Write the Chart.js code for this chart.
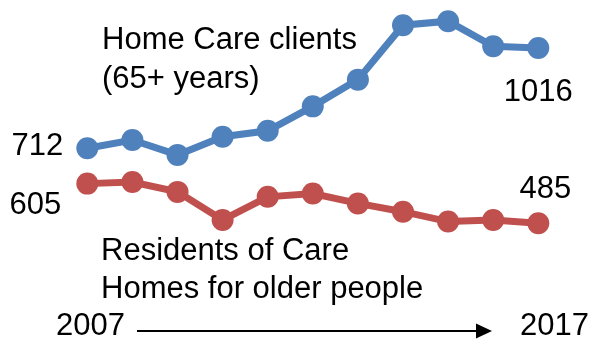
<!DOCTYPE html>
<html>
<head>
<meta charset="utf-8">
<script src="https://cdn.jsdelivr.net/npm/chart.js@4/dist/chart.umd.min.js"></script>
<style>
html,body{margin:0;padding:0;background:#fff;}
#wrap{width:592px;height:340px;position:relative;}
</style>
</head>
<body>
<div id="wrap"><canvas id="c" width="592" height="340"></canvas></div>
<script>
const years = ['2007','2008','2009','2010','2011','2012','2013','2014','2015','2016','2017'];
const homeCareClients = [712, 737, 692, 747, 765, 839, 920, 1085, 1097, 1021, 1016];
const careHomeResidents = [605, 610, 580, 495, 565, 575, 545, 520, 490, 495, 485];
const seriesNames = ['Home Care clients (65+ years)', 'Residents of Care Homes for older people'];

const FONT = '31px "Liberation Sans", Arial, sans-serif';

const textPlugin = {
  id: 'texts',
  afterDatasetsDraw(chart) {
    const ctx = chart.ctx;
    ctx.save();
    ctx.fillStyle = '#000';
    ctx.font = FONT;
    ctx.textBaseline = 'alphabetic';
    const b = chart.getDatasetMeta(0).data;
    const r = chart.getDatasetMeta(1).data;
    // value labels
    ctx.textAlign = 'right';
    ctx.fillText(String(homeCareClients[0]), b[0].x - 24, b[0].y + 7);
    ctx.fillText(String(careHomeResidents[0]), r[0].x - 26, r[0].y + 30);
    ctx.textAlign = 'center';
    const nb = b.length - 1, nr = r.length - 1;
    ctx.fillText(String(homeCareClients[nb]), b[nb].x, b[nb].y + 53);
    ctx.fillText(String(careHomeResidents[nr]), r[nr].x + 7, r[nr].y - 25);
    // series labels
    ctx.textAlign = 'left';
    ctx.fillText('Home Care clients', 102, 49);
    ctx.fillText('(65+ years)', 102, 88);
    ctx.fillText('Residents of Care', 101, 260);
    ctx.fillText('Homes for older people', 101, 298);
    // years + arrow
    ctx.fillText(years[0], 56, 335);
    ctx.fillText(years[years.length - 1], 520, 335);
    ctx.strokeStyle = '#000';
    ctx.lineWidth = 2;
    ctx.beginPath();
    ctx.moveTo(137, 331);
    ctx.lineTo(478, 331);
    ctx.stroke();
    ctx.beginPath();
    ctx.moveTo(476, 323.5);
    ctx.lineTo(492, 331);
    ctx.lineTo(476, 338.5);
    ctx.closePath();
    ctx.fill();
    ctx.restore();
  }
};

new Chart(document.getElementById('c'), {
  type: 'line',
  data: {
    labels: years,
    datasets: [
      {
        label: seriesNames[0],
        data: homeCareClients,
        borderColor: '#4F81BD',
        backgroundColor: '#4F81BD',
        borderWidth: 7,
        pointRadius: 11,
        pointHoverRadius: 11,
        pointBorderWidth: 0,
        pointStyle: 'circle',
        tension: 0,
        clip: false
      },
      {
        label: seriesNames[1],
        data: careHomeResidents,
        borderColor: '#C0504D',
        backgroundColor: '#C0504D',
        borderWidth: 7,
        pointRadius: 11,
        pointHoverRadius: 11,
        pointBorderWidth: 0,
        pointStyle: 'circle',
        tension: 0,
        clip: false
      }
    ]
  },
  options: {
    responsive: false,
    animation: false,
    events: [],
    layout: { autoPadding: false, padding: { left: 87.3, right: 53.7, top: 3.7, bottom: 88.7 } },
    plugins: { legend: { display: false }, tooltip: { enabled: false } },
    scales: {
      x: { display: false, offset: false },
      y: { display: false, min: 400, max: 1150 }
    }
  },
  plugins: [textPlugin]
});
</script>
</body>
</html>
